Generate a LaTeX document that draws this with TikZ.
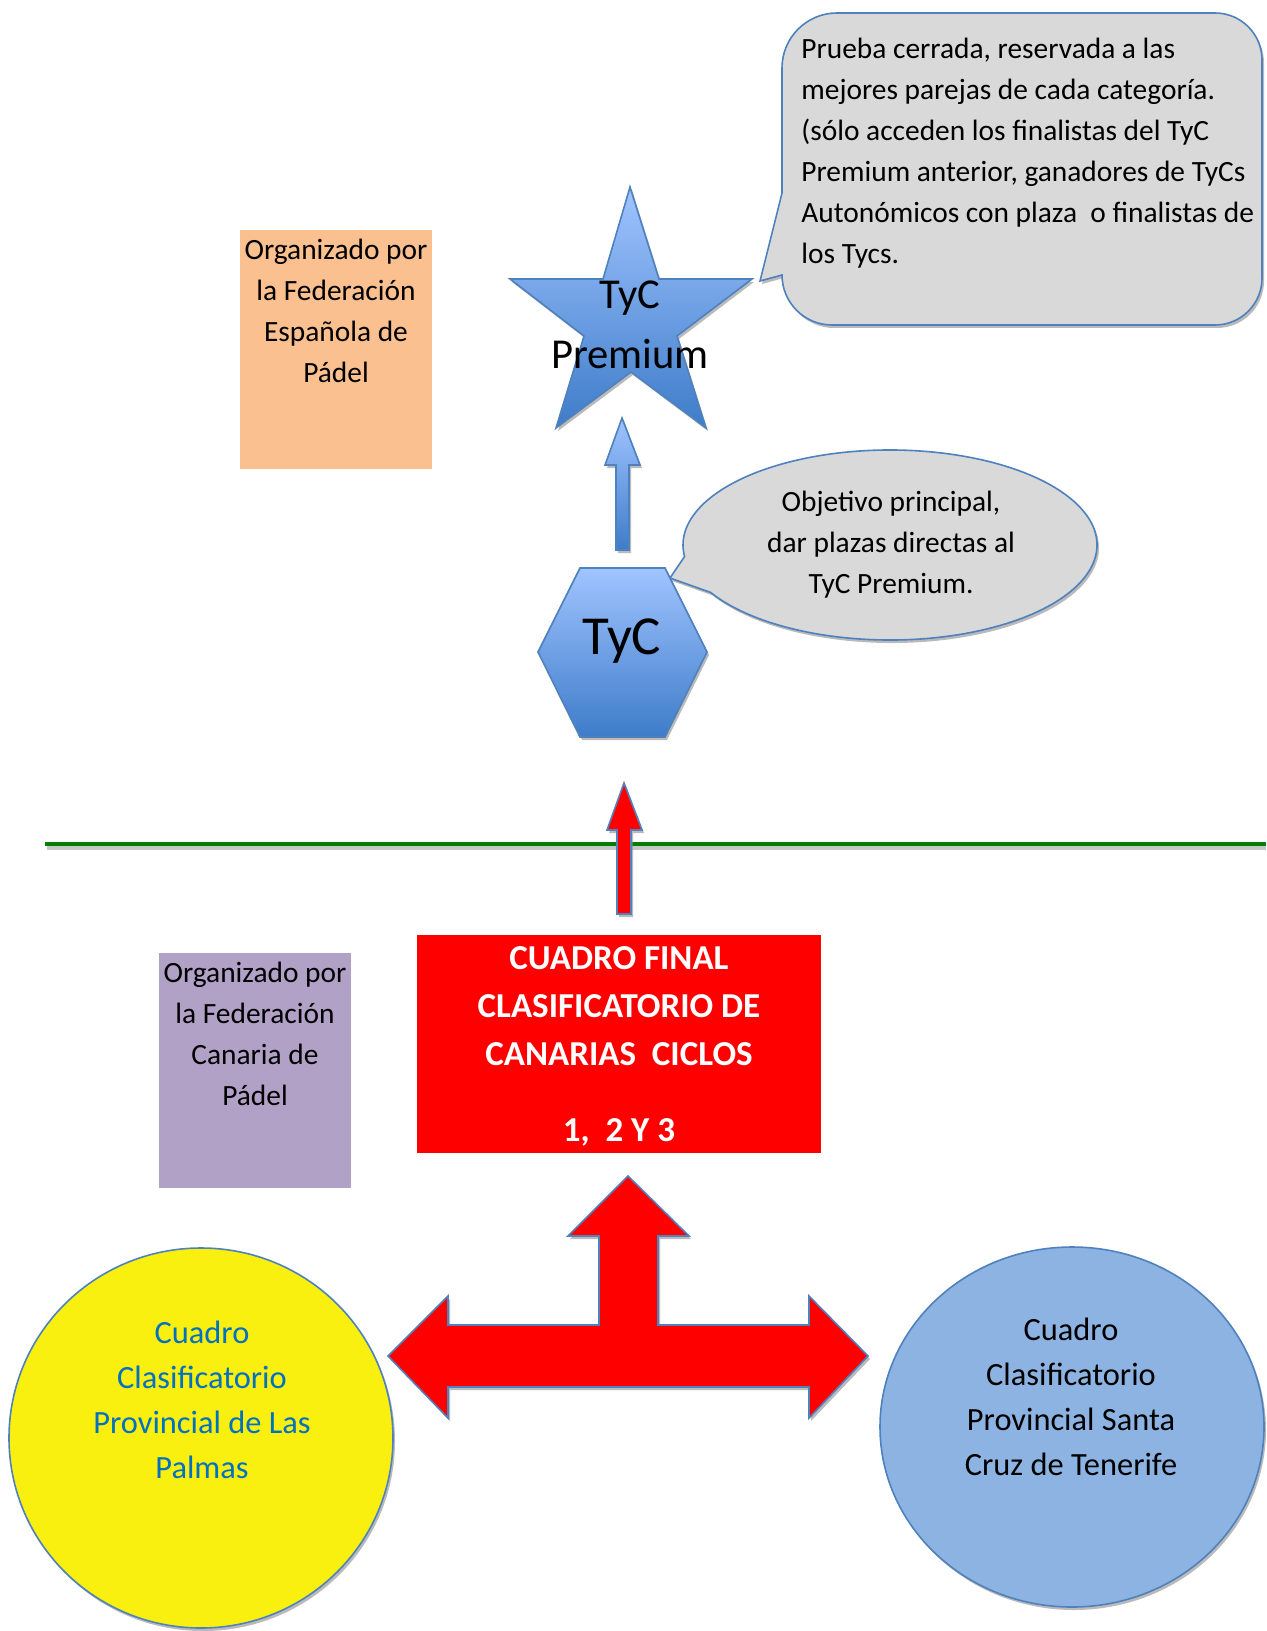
\documentclass[tikz,border=0pt]{standalone}
\usepackage{fontspec}
\setmainfont{Carlito}
\usetikzlibrary{shapes.geometric,shadows,calc}
\definecolor{outl}{RGB}{79,129,189}
\definecolor{bgtop}{RGB}{160,196,255}
\definecolor{bgbot}{RGB}{62,124,201}
\definecolor{calgray}{RGB}{217,217,217}
\definecolor{orangec}{RGB}{250,192,143}
\definecolor{purplec}{RGB}{178,161,199}
\definecolor{yellowc}{RGB}{249,240,15}
\definecolor{bluecirc}{RGB}{141,179,226}
\definecolor{textblue}{RGB}{0,112,192}
\definecolor{greenc}{RGB}{0,128,0}
\begin{document}
\begin{tikzpicture}[x=0.5pt,y=-0.5pt,
  shd/.style={drop shadow={shadow xshift=1pt,shadow yshift=-1.5pt,fill=black!45,opacity=.6}},
  bluegrad/.style={top color=bgtop,bottom color=bgbot,draw=outl,line width=0.8pt,shd},
  callout/.style={fill=calgray,draw=outl,line width=0.8pt,shd},
  redarrow/.style={fill=red,draw=outl,line width=0.8pt,shd},
  txt/.style={align=center,inner sep=0pt,font=\fontsize{14.7pt}{20.5pt}\selectfont},
  plainbox/.style={rectangle,inner sep=0pt}]
\useasboundingbox (0,0) rectangle (1266,1631);

% Federacion Espanola box
\node[plainbox,fill=orangec,minimum width=96pt,minimum height=119.5pt] (fedesp) at (336,349.5) {};
\node[txt] (fedesptxt) at (336,310.5) {Organizado por\\la Federación\\Española de\\Pádel};

% star
\draw[bluegrad] (630,187) -- (659,279) -- (752,279) -- (677,336) -- (706,428) -- (631,372)
  -- (556,428) -- (584,336) -- (510,279) -- (603,279) -- cycle;
\node[txt,font=\fontsize{21.3pt}{30pt}\selectfont] (premium) at (630,325) {TyC\\Premium};

% callout top right
\draw[callout] (782,193) -- (760,281) -- (782,275)
  .. controls (782,302.6) and (804.4,325) .. (832,325) -- (1215,325)
  .. controls (1241,325) and (1262,304) .. (1262,278) -- (1262,60)
  .. controls (1262,34) and (1241,13) .. (1215,13) -- (837,13)
  .. controls (806.6,13) and (782,37.6) .. (782,68) -- cycle;
\node[txt,align=left,anchor=west] (prueba) at (801,153.5) {Prueba cerrada, reservada a las\\mejores parejas de cada categoría.\\(sólo acceden los finalistas del TyC\\Premium anterior, ganadores de TyCs\\Autonómicos con plaza\ \ o finalistas de\\los Tycs.};

% small blue arrow
\draw[bluegrad] (622,418) -- (640,465) -- (629,465) -- (629,550) -- (616,550) -- (616,465) -- (605,465) -- cycle;

% ellipse callout
\coordinate (oc) at (890,545);
\coordinate (otip) at (670,578);
\draw[callout] ($(oc)+(187:103.5pt and 47.5pt)$) -- (otip) -- ($(oc)+(210:103.5pt and 47.5pt)$)
  arc[start angle=210,end angle=547,x radius=103.5pt,y radius=47.5pt] -- cycle;
\node[txt] (objtxt) at (891,545) {Objetivo principal,\\dar plazas directas al\\TyC Premium.};

% hexagon
\draw[bluegrad] (580,568) -- (665,568) -- (707,652) -- (665,737) -- (580,737) -- (538,652) -- cycle;
\node[font=\fontsize{27.5pt}{30pt}\selectfont,anchor=base,inner sep=0pt] (tyc) at (622,654) {TyC};

% green line
\draw[line width=1.6pt,black!22] (47,848) -- (1266,848);
\draw[line width=2pt,greenc] (45,844) -- (1266,844);

% red up arrow
\draw[redarrow] (624,783) -- (642,830) -- (631,830) -- (631,914) -- (617,914) -- (617,830) -- (607,830) -- cycle;

% red box
\node[plainbox,fill=red,minimum width=202pt,minimum height=109pt] (final) at (619,1044) {};
\node[txt,text=white,font=\bfseries\fontsize{17.5pt}{24pt}\selectfont] (finaltxt) at (619,1046)
  {CUADRO FINAL\\CLASIFICATORIO DE\\CANARIAS\ \ CICLOS\\[14pt]1,\ \ 2 Y 3};

% Federacion Canaria box
\node[plainbox,fill=purplec,minimum width=96pt,minimum height=117.5pt] (fedcan) at (255,1070.5) {};
\node[txt] (fedcantxt) at (255,1034) {Organizado por\\la Federación\\Canaria de\\Pádel};

% T arrow
\draw[redarrow] (628,1176) -- (689,1236) -- (658,1236) -- (658,1325) -- (809,1325) -- (809,1296)
  -- (868,1356) -- (809,1418) -- (809,1387) -- (448,1387) -- (448,1418) -- (388,1356)
  -- (448,1296) -- (448,1325) -- (599,1325) -- (599,1236) -- (568,1236) -- cycle;

% circles
\node[ellipse,fill=yellowc,draw=outl,line width=0.8pt,minimum width=192pt,minimum height=190pt,inner sep=0pt,shd] (lp) at (201,1438) {};
\node[txt,text=textblue,font=\fontsize{16.2pt}{22.5pt}\selectfont] (lptxt) at (202,1400) {Cuadro\\Clasificatorio\\Provincial de Las\\Palmas};
\node[ellipse,fill=bluecirc,draw=outl,line width=0.8pt,minimum width=192pt,minimum height=180pt,inner sep=0pt,shd] (tf) at (1072,1427) {};
\node[txt,font=\fontsize{16.2pt}{22.5pt}\selectfont] (tftxt) at (1071,1396.5) {Cuadro\\Clasificatorio\\Provincial Santa\\Cruz de Tenerife};
\end{tikzpicture}
\end{document}
